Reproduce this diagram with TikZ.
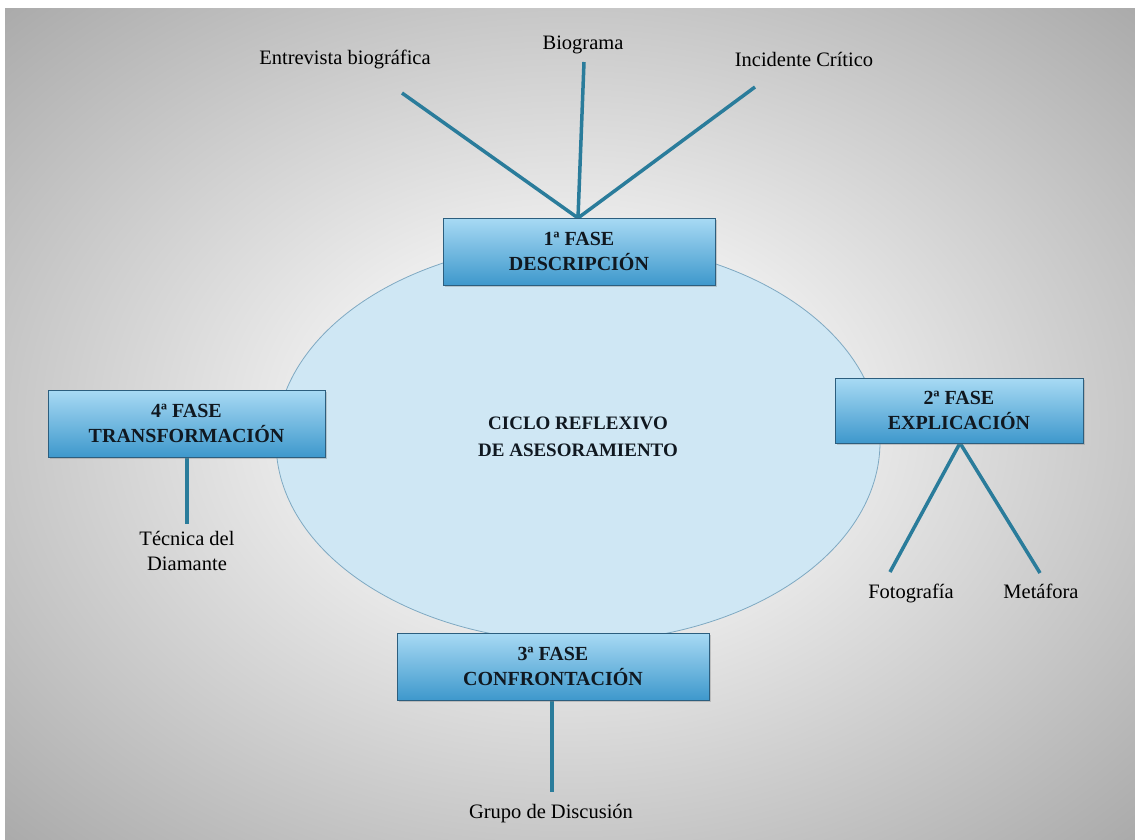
\documentclass[tikz,border=0pt]{standalone}
\usepackage{fontspec}
\setmainfont{Liberation Serif}
\usetikzlibrary{shadows,shapes.geometric}
\definecolor{bginner}{HTML}{F6F6F6}
\definecolor{bgouter}{HTML}{A6A6A6}
\definecolor{ringfill}{HTML}{CFE7F4}
\definecolor{ringedge}{HTML}{7FA9C2}
\definecolor{stem}{HTML}{2A7C9B}
\definecolor{boxtop}{HTML}{A8DAF4}
\definecolor{boxbot}{HTML}{3E98CC}
\definecolor{boxedge}{HTML}{2C5E7E}
\definecolor{ink}{HTML}{101820}
\pgfdeclareradialshading{backdrop}{\pgfpoint{0bp}{0bp}}{%
  color(0bp)=(bginner); color(8bp)=(bginner); color(37bp)=(bgouter); color(50bp)=(bgouter)}
\tikzset{
  phase/.style={draw=boxedge, line width=0.8pt, top color=boxtop, bottom color=boxbot,
    minimum height=67pt, align=center, text=ink, font=\fontsize{20}{25}\selectfont\bfseries,
    drop shadow={shadow xshift=2pt, shadow yshift=-2pt, opacity=0.35}},
  tool/.style={font=\fontsize{20.5}{25}\selectfont, align=center, inner sep=1pt},
  stemline/.style={draw=stem, line width=3.5pt}
}
\begin{document}
\begin{tikzpicture}[x=1pt, y=-1pt]
\useasboundingbox (0,0) rectangle (1135,839);
% page margin and shaded backdrop
\fill[white] (0,0) rectangle (1135,839);
\shade[shading=backdrop] (5,8) rectangle (1135,839);

% central cycle
\node[ellipse, draw=ringedge, fill=ringfill, line width=0.8pt,
      minimum width=604pt, minimum height=400pt, inner sep=0pt] (cycle) at (578,442) {};
\node[font=\fontsize{19}{27}\selectfont\bfseries, text=ink, align=center] (title) at (578,437)
  {CICLO REFLEXIVO\\DE ASESORAMIENTO};

% tool labels
\node[tool, anchor=base] (entrevista) at (345,64) {Entrevista biográfica};
\node[tool, anchor=base] (biograma) at (583,49) {Biograma};
\node[tool, anchor=base] (incidente) at (804,66) {Incidente Crítico};
\node[tool, anchor=base] (foto) at (911,598) {Fotografía};
\node[tool, anchor=base] (metafora) at (1041,598) {Metáfora};
\node[tool] (diamante) at (187,551) {Técnica del\\Diamante};
\node[tool, anchor=base] (grupo) at (551,818) {Grupo de Discusión};

% connector end points
\coordinate (e1) at (402,93);
\coordinate (b1) at (584,62);
\coordinate (i1) at (755,87);
\coordinate (f1) at (890,572);
\coordinate (m1) at (1040,573);
\coordinate (d1) at (187,524);
\coordinate (g1) at (552,792);
\coordinate (top) at (578,218);
\coordinate (exp) at (960,443);
\coordinate (tra) at (187,457);
\coordinate (con) at (552,699);

\path[stemline] (e1) -- (top) (b1) -- (top) (i1) -- (top);
\path[stemline] (exp) -- (f1) (exp) -- (m1);
\path[stemline] (tra) -- (d1);
\path[stemline] (con) -- (g1);

% phase boxes
\node[phase, minimum width=272pt] (p1) at (579,251.5) {1ª FASE\\DESCRIPCIÓN};
\node[phase, minimum width=248pt, minimum height=65pt] (p2) at (959,410.5) {2ª FASE\\EXPLICACIÓN};
\node[phase, minimum width=312pt] (p3) at (553,666.5) {3ª FASE\\CONFRONTACIÓN};
\node[phase, minimum width=277pt] (p4) at (186.5,423.5) {4ª FASE\\TRANSFORMACIÓN};
\end{tikzpicture}
\end{document}
